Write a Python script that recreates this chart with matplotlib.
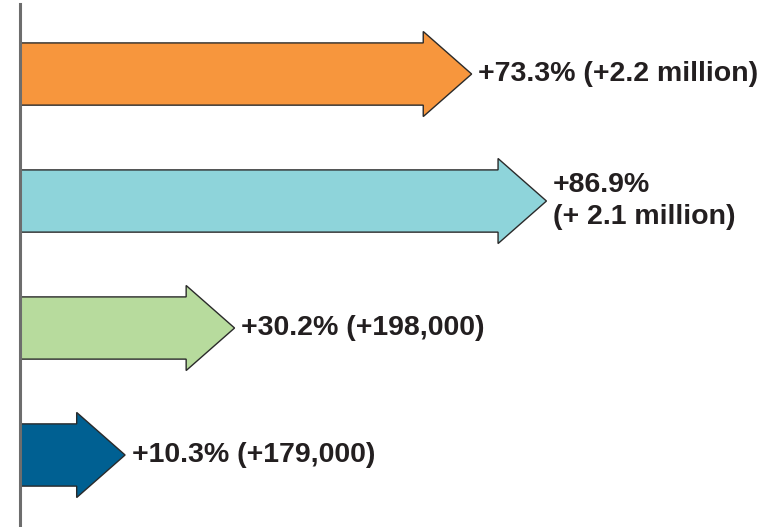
import matplotlib.pyplot as plt
from matplotlib.patches import FancyArrow

# ===================== 数据 =====================
PERCENT = [73.3, 86.9, 30.2, 10.3]
LABELS = ['+73.3% (+2.2 million)', '+86.9%\n(+ 2.1 million)',
          '+30.2% (+198,000)', '+10.3% (+179,000)']
COLORS = ['#F7963D', '#8ED4DA', '#B7DB9D', '#006092']

# ===================== 样式 =====================
HEAD_LEN = 8.8      # 箭头头部长度（%单位）
BODY_W = 0.49       # 箭身高度
HEAD_W = 0.67       # 箭头高度
FONT_SIZE = 20.5

plt.rcParams['font.family'] = ['Liberation Sans', 'DejaVu Sans']

fig = plt.figure(figsize=(7.83, 5.27), dpi=100)
ax = fig.add_axes([0, 0, 1, 1])
ax.set_xlim(-3.64, 138.7)
ax.set_ylim(3.567, -0.583)
ax.axis('off')

for i, (p, lab, c) in enumerate(zip(PERCENT, LABELS, COLORS)):
    arr = FancyArrow(0, i, p, 0, width=BODY_W, head_width=HEAD_W,
                     head_length=HEAD_LEN, length_includes_head=False,
                     facecolor=c, edgecolor='#2a2a2a', linewidth=1.0)
    ax.add_patch(arr)
    ax.text(p + HEAD_LEN + 1.2, i, lab, fontsize=FONT_SIZE, fontweight='bold',
            color='#231f20', ha='left', va='center', linespacing=1.28)

# 左侧竖线
ax.axvline(0, ymin=0, ymax=1 - 4 / 527, color='#6d6d6d', linewidth=2.2)

plt.savefig('out.png', dpi=100)
